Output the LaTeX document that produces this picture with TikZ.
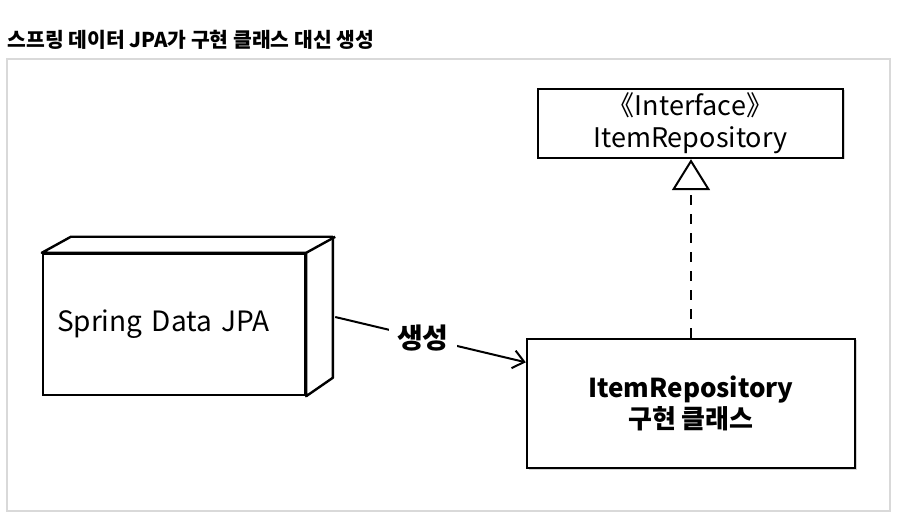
\documentclass[tikz,border=0pt]{standalone}
\usepackage{fontspec}
\setmainfont{Noto Sans CJK KR}
\usepackage{tikz}
\usetikzlibrary{shapes,arrows.meta}
\usetikzlibrary{positioning}
\usetikzlibrary{shadows}
\tikzstyle{block} = [rectangle, draw, line width=2.4pt, fill=white, align=center,
    drop shadow={shadow xshift=1.5pt, shadow yshift=-1.5pt, opacity=0.35}]
\tikzstyle{cube} = [rectangle, draw, line width=2.4pt, fill=white, align=left,
    inner xsep=14pt, text width=234pt, minimum width=262pt, minimum height=141pt]
\tikzstyle{gen} = [draw, line width=2pt, -{Straight Barb[length=11pt, width=18pt, line width=2pt]}]
\tikzstyle{realize} = [draw, line width=2.6pt, dash pattern=on 10pt off 9pt,
    -{Triangle[open, length=31pt, width=38pt, line width=2pt]}]
\tikzstyle{frame} = [draw=black!15, line width=1.6pt]

\begin{document}
\begin{tikzpicture}[x=1pt, y=-1pt]
  \useasboundingbox (0,0) rectangle (916,529);
  \path [frame] (7,59) rectangle (890,511);

  % Place nodes
  \node [anchor=west, font=\fontsize{20.4}{22}\selectfont\bfseries] (title) at (4,40)
    {스프링 데이터 JPA가 구현 클래스 대신 생성};

  \node [cube, font=\fontsize{28}{32}\selectfont] (jpa) at (174,324.5) {Spring Data JPA};
  % depth of the box
  \path [draw, line width=2.4pt, fill=white, line join=round]
    (jpa.north west) -- ++(29,-16) -- ++(262,0) -- ++(0,141) -- (jpa.south east)
    -- (jpa.north east) -- cycle;
  \path [draw, line width=2.4pt] (jpa.north east) -- ++(29,-16);

  \node [block, minimum width=305pt, minimum height=69pt, inner ysep=2pt,
    font=\fontsize{27}{32}\selectfont] (iface) at (690.5,123.5)
    {《Interface》\\ItemRepository};

  \node [block, minimum width=328pt, minimum height=129pt,
    font=\fontsize{26}{31}\selectfont\bfseries] (impl) at (691,403.5)
    {ItemRepository\\구현 클래스};

  % Draw edges
  \path [gen] ([xshift=29pt, yshift=7.5pt]jpa.east) -- node [pos=0.46, fill=white,
    inner xsep=8pt, font=\fontsize{28}{30}\selectfont\bfseries] {생성} (impl.166);

  \path [realize] (impl.north) -- (impl.north |- iface.south);

\end{tikzpicture}
\end{document}
